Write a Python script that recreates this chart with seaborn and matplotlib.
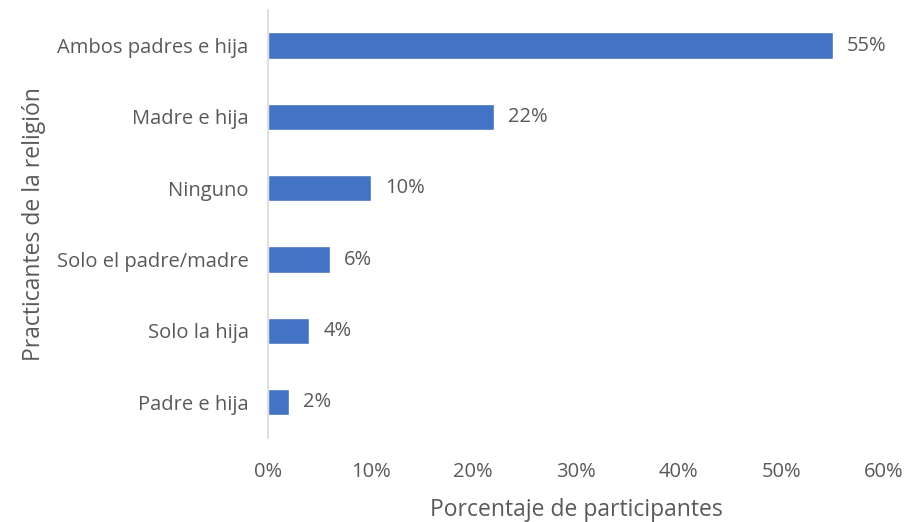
import pandas as pd
import matplotlib.pyplot as plt
import seaborn as sns

# datos
categorias = ["Ambos padres e hija", "Madre e hija", "Ninguno",
              "Solo el padre/madre", "Solo la hija", "Padre e hija"]
porcentajes = [55, 22, 10, 6, 4, 2]
ticks_x = [0, 10, 20, 30, 40, 50, 60]

df = pd.DataFrame({"cat": categorias, "pct": porcentajes})

sns.set_style("white")
plt.rcParams['font.family'] = ['Open Sans', 'DejaVu Sans']
gris = "#595959"

fig = plt.figure(figsize=(9.07, 5.22), dpi=100)
ax = fig.add_axes([0.2955, 0.161, 0.679, 0.82])

sns.barplot(data=df, x="pct", y="cat", color="#4472C4", saturation=1,
            width=0.37, orient="h", ax=ax)

for i, v in enumerate(porcentajes):
    ax.text(v + 1.4, i, f"{v}%", va="center", ha="left", fontsize=14.5, color=gris)

ax.set_xlim(0, 60)
ax.set_ylim(5.5, -0.5)
ax.set_xticks(ticks_x)
ax.set_xticklabels([f"{t}%" for t in ticks_x])
ax.tick_params(axis="both", length=0, labelsize=14.5, labelcolor=gris)
ax.tick_params(axis="x", pad=17)
ax.tick_params(axis="y", pad=14)

for s in ["top", "right", "bottom"]:
    ax.spines[s].set_visible(False)
ax.spines["left"].set_color("#D9D9D9")
ax.spines["left"].set_linewidth(1.2)

ax.set_xlabel("Porcentaje de participantes", fontsize=16.5, color=gris, labelpad=12)
ax.set_ylabel("Practicantes de la religión", fontsize=16.5, color=gris, labelpad=8)

fig.savefig("out.png", dpi=100)
